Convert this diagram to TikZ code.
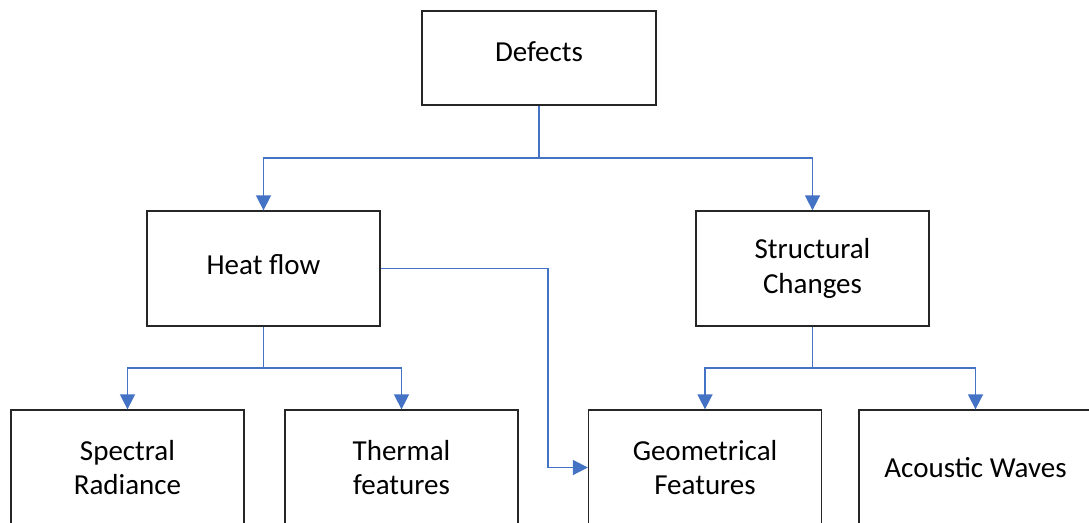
\documentclass[tikz,border=0pt]{standalone}
\usepackage{fontspec}
\setmainfont{Carlito}
\usetikzlibrary{arrows.meta}
\definecolor{linkblue}{RGB}{68,114,196}
\definecolor{boxline}{RGB}{38,38,38}
\begin{document}
\begin{tikzpicture}[x=1pt,y=-1pt,
  box/.style={draw=boxline, line width=1.3pt, fill=white, minimum width=233pt,
    minimum height=115pt, inner sep=0pt, align=center,
    font=\fontsize{29}{34.4}\selectfont},
  conn/.style={draw=linkblue, line width=1.6pt,
    -{Triangle[length=15pt,width=15pt]}},
  link/.style={draw=linkblue, line width=1.6pt}]
  \useasboundingbox (0,0) rectangle (1089,522);
  \clip (0,0) rectangle (1089,522);

  % boxes
  \node[box, minimum width=234pt, minimum height=94pt, text depth=12pt] (def) at (539,58) {Defects};
  \node[box, text depth=8pt] (heat) at (263.5,268.5) {Heat flow};
  \node[box] (struct) at (812.5,268.5) {Structural\\Changes};
  \node[box] (spec) at (127.5,467.5) {Spectral\\Radiance};
  \node[box] (therm) at (401.5,467.5) {Thermal\\features};
  \node[box] (geom) at (705,467.5) {Geometrical\\Features};
  \node[box] (acou) at (975.5,467.5) {Acoustic Waves};

  % junction points
  \coordinate (j1) at (539,158);
  \coordinate (j2) at (263.5,368);
  \coordinate (j3) at (812.5,368);
  \coordinate (j4) at (548,268.5);

  % connectors
  \draw[link] (def.south) -- (j1);
  \draw[conn] (j1) -| (heat.north);
  \draw[conn] (j1) -| (struct.north);
  \draw[link] (heat.south) -- (j2);
  \draw[conn] (j2) -| (spec.north);
  \draw[conn] (j2) -| (therm.north);
  \draw[link] (struct.south) -- (j3);
  \draw[conn] (j3) -| (geom.north);
  \draw[conn] (j3) -| (acou.north);
  \draw[conn] (heat.east) -- (j4) |- (geom.west);
\end{tikzpicture}
\end{document}
